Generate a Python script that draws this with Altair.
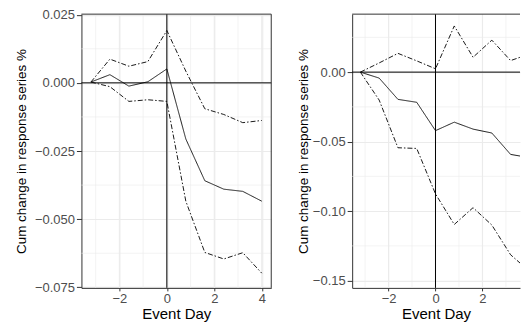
import altair as alt
import pandas as pd

# ---- data ----
days = [-3.2, -2.4, -1.6, -0.8, 0.0, 0.8, 1.6, 2.4, 3.2, 4.0]

left_upper = [0.0003, 0.0087, 0.0061, 0.0078, 0.0192, 0.0043, -0.0095, -0.0116, -0.0146, -0.0138]
left_mid = [0.0003, 0.0030, -0.0012, 0.0004, 0.0051, -0.0206, -0.0359, -0.0390, -0.0398, -0.0434]
left_lower = [0.0003, -0.0014, -0.0068, -0.0062, -0.0068, -0.0434, -0.0622, -0.0646, -0.0623, -0.0698]

right_upper = [0.0, 0.0066, 0.0135, 0.0081, 0.0024, 0.0332, 0.0107, 0.0230, 0.0083, 0.0130]
right_mid = [0.0, -0.0043, -0.0196, -0.0217, -0.0421, -0.0360, -0.0410, -0.0438, -0.0592, -0.0615]
right_lower = [0.0, -0.0201, -0.0544, -0.0549, -0.0876, -0.1096, -0.0975, -0.1100, -0.1314, -0.1432]

x_major = [-2, 0, 2, 4]
x_minor = [-3, -1, 1, 3]
left_y_major = [0.025, 0.0, -0.025, -0.05, -0.075]
left_y_minor = [0.0125, -0.0125, -0.0375, -0.0625]
right_y_major = [0.0, -0.05, -0.10, -0.15]
right_y_minor = [0.025, -0.025, -0.075, -0.125]

x_title = "Event Day"
y_title = "Cum change in response series %"

FONT = "Liberation Sans"
BORDER = "#333333"
GRID = "#EBEBEB"
DOTDASH = [5, 2, 1.5, 2]


def panel(upper, mid, lower, xdom, ydom, ymajor, yminor, yfmt, xlabels,
          width, height, right_border=True, title_pad=6):
    rows = []
    for name, vals in (("upper", upper), ("mid", mid), ("lower", lower)):
        for d, v in zip(days, vals):
            rows.append({"day": d, "value": v, "series": name})
    df = pd.DataFrame(rows)

    xscale = alt.Scale(domain=xdom, nice=False, zero=False)
    yscale = alt.Scale(domain=ydom, nice=False, zero=False)

    xaxis = alt.Axis(values=xlabels, title=x_title, tickSize=3, labelPadding=2,
                     titlePadding=1, titleFontSize=15, labelFlush=False,
                     format="d", grid=True)
    yaxis = alt.Axis(values=ymajor, title=y_title, tickSize=5, labelPadding=2,
                     titlePadding=title_pad, titleFontSize=13.5, format=yfmt,
                     grid=True, labelFlush=False)

    dummy = pd.DataFrame({"k": [0]})

    lines = alt.Chart(df).mark_line(strokeWidth=1, color="#1a1a1a", clip=True).encode(
        x=alt.X("day:Q", scale=xscale, axis=xaxis),
        y=alt.Y("value:Q", scale=yscale, axis=yaxis),
        detail="series:N",
        strokeDash=alt.StrokeDash(
            "series:N",
            scale=alt.Scale(domain=["upper", "mid", "lower"],
                            range=[DOTDASH, [1, 0], DOTDASH]),
            legend=None),
    )

    minor_x = alt.Chart(pd.DataFrame({"v": x_minor})).mark_rule(
        color=GRID, strokeWidth=0.6, clip=True).encode(x=alt.X("v:Q", scale=xscale, axis=xaxis))
    minor_y = alt.Chart(pd.DataFrame({"v": yminor})).mark_rule(
        color=GRID, strokeWidth=0.6).encode(y=alt.Y("v:Q", scale=yscale, axis=yaxis))
    major_x = alt.Chart(pd.DataFrame({"v": x_major})).mark_rule(
        color=GRID, strokeWidth=1.1, clip=True).encode(x=alt.X("v:Q", scale=xscale, axis=xaxis))

    zero_v = alt.Chart(dummy).mark_rule(color="black", strokeWidth=1).encode(
        x=alt.XDatum(0, scale=xscale, axis=xaxis))
    zero_h = alt.Chart(dummy).mark_rule(color="black", strokeWidth=1).encode(
        y=alt.YDatum(0, scale=yscale, axis=yaxis))
    top_b = alt.Chart(dummy).mark_rule(color=BORDER, strokeWidth=1).encode(
        y=alt.YDatum(ydom[1], scale=yscale, axis=yaxis))

    layers = [minor_x, minor_y, major_x, lines, zero_v, zero_h, top_b]
    if right_border:
        layers.append(alt.Chart(dummy).mark_rule(color=BORDER, strokeWidth=1).encode(
            x=alt.XDatum(xdom[1], scale=xscale, axis=xaxis)))
    return alt.layer(*layers).properties(width=width, height=height)


left = panel(left_upper, left_mid, left_lower,
             [-3.6, 4.4], [-0.0752, 0.0252],
             left_y_major, left_y_minor, ".3f", x_major,
             width=190, height=274, right_border=True, title_pad=6)

right = panel(right_upper, right_mid, right_lower,
              [-3.55, 3.6], [-0.1552, 0.0417],
              right_y_major, right_y_minor, ".2f", [-2, 0, 2],
              width=168, height=274, right_border=False, title_pad=2)

chart = alt.hconcat(left, right, spacing=24).properties(
    padding={"left": 5.5, "top": 0, "right": 0, "bottom": 0},
    background="white",
).configure_view(stroke=None).configure_axis(
    labelFont=FONT, labelFontSize=13, labelColor="#4D4D4D",
    titleFont=FONT, titleColor="black", titleFontWeight="normal",
    domainColor=BORDER, domainWidth=1, tickColor=BORDER, tickWidth=1,
    gridColor=GRID, gridWidth=1.1,
)

chart.save("out.html", embed_options={"renderer": "svg", "actions": False})
